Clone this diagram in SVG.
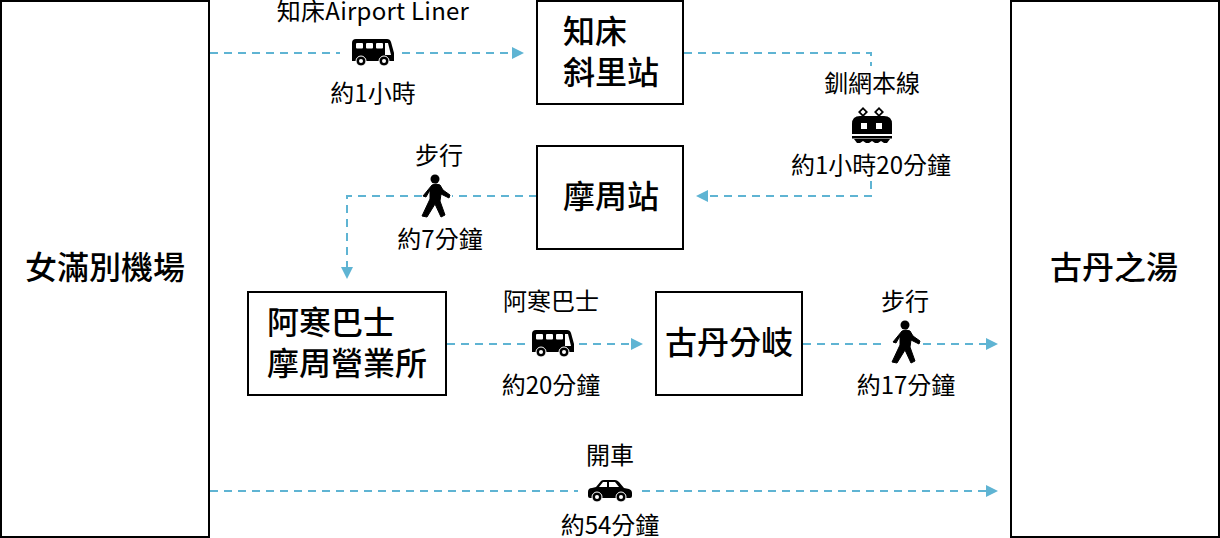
<svg xmlns="http://www.w3.org/2000/svg" xmlns:xlink="http://www.w3.org/1999/xlink" width="1220" height="538" viewBox="0 0 1220 538">
<style>
text{font-family:"Noto Sans CJK TC","Noto Sans",sans-serif;fill:#000;text-anchor:middle}
.n{font-size:32px;font-weight:500}
.l{font-size:24px}
.b{fill:#fff;stroke:#000;stroke-width:2}
.c{fill:none;stroke:#5fb4d3;stroke-width:2;stroke-dasharray:8 6}
.h{fill:#5fb4d3}
</style>
<defs>
<g id="bus">
<path d="M-17,-12 H14 Q17,-12 18,-9 L21,2 V10 H-21 V-8 Q-21,-12 -17,-12 Z" fill="#000"/>
<rect x="-17" y="-8" width="7" height="5.500" rx="1" fill="#fff"/>
<rect x="-7" y="-8" width="7" height="5.500" rx="1" fill="#fff"/>
<rect x="3" y="-8" width="7" height="5.500" rx="1" fill="#fff"/>
<path d="M12,-8 H15 L18,4 H12 Z" fill="#fff"/>
<circle cx="-12" cy="10" r="5" fill="#000" stroke="#fff" stroke-width="1"/><circle cx="-12" cy="10" r="2" fill="#fff"/>
<circle cx="11" cy="10" r="5" fill="#000" stroke="#fff" stroke-width="1"/><circle cx="11" cy="10" r="2" fill="#fff"/>
</g>
<g id="walk">
<circle cx="0" cy="0" r="4.500" fill="#000"/>
<path d="M-3,6 Q1,4 5,6 L8,11 L15,16 L14,19 L6,15 L5,22 L10,36 L6,38 L0,25 L-8,38 L-13,37 L-5,20 L-5,11 L-9,18 L-12,17 Z" fill="#000" stroke="#000" stroke-width="1" stroke-linejoin="round"/>
</g>
</defs>
<g id="connectors">
<path class="c" d="M210,53 H340"/>
<path class="c" d="M402,53 H514"/>
<path class="h" d="M524,53 L512,47 V59 Z"/>
<path class="c" d="M684,53 H871 V66"/>
<path class="c" d="M871,181 V196 H706"/>
<path class="h" d="M696,196 L708,190 V202 Z"/>
<path class="c" d="M537,196 H452"/>
<path class="c" d="M422,196 H347 V268"/>
<path class="h" d="M347,279 L341,267 H353 Z"/>
<path class="c" d="M447,344 H529"/>
<path class="c" d="M579,344 H632"/>
<path class="h" d="M643,344 L631,338 V350 Z"/>
<path class="c" d="M803,344 H884"/>
<path class="c" d="M923,344 H988"/>
<path class="h" d="M998,344 L986,338 V350 Z"/>
<path class="c" d="M210,491 H578"/>
<path class="c" d="M642,491 H988"/>
<path class="h" d="M998,491 L986,485 V497 Z"/>
</g>
<g id="node-airport"><rect class="b" x="1" y="1" width="208" height="536"/><text class="n" x="105" y="279">女滿別機場</text></g>
<g id="node-shari"><rect class="b" x="537" y="1" width="146" height="103"/><text class="n" x="595" y="43">知床</text><text class="n" x="611" y="84">斜里站</text></g>
<g id="node-mashu"><rect class="b" x="537" y="146" width="146" height="103"/><text class="n" x="611" y="208">摩周站</text></g>
<g id="node-akan"><rect class="b" x="248" y="292" width="198" height="103"/><text class="n" x="331" y="334">阿寒巴士</text><text class="n" x="347" y="375">摩周營業所</text></g>
<g id="node-junction"><rect class="b" x="656" y="292" width="146" height="103"/><text class="n" x="729" y="354">古丹分岐</text></g>
<g id="node-kotan"><rect class="b" x="1011" y="1" width="208" height="536"/><text class="n" x="1114" y="279">古丹之湯</text></g>
<g id="label-liner"><text class="l" x="373" y="20" letter-spacing="0.25">知床Airport Liner</text><use xlink:href="#bus" href="#bus" x="373" y="51"/><text class="l" x="373" y="102">約1小時</text></g>
<g id="label-senmo"><text class="l" x="872" y="92">釧網本線</text>
<g id="train" fill="#000">
<path d="M852,124 Q852,116 860,116 H884 Q892,116 892,124 V134 H852 Z"/>
<rect x="852" y="136" width="40" height="2.500"/>
<path d="M854,139 H890 L887,143 H884 L881,141 L878,143 H875 L872,141 L869,143 H866 L863,141 L860,143 H857 Z"/>
<rect x="861" y="123" width="6" height="6" fill="#fff"/><rect x="876" y="123" width="6" height="6" fill="#fff"/>
<path d="M863,107 L868,112 L863,117 L858,112 Z M863,109.500 L860.500,112 L863,114.500 L865.500,112 Z M879,107 L884,112 L879,117 L874,112 Z M879,109.500 L876.500,112 L879,114.500 L881.500,112 Z" fill-rule="evenodd"/>
</g>
<text class="l" x="871" y="174">約1小時20分鐘</text></g>
<g id="label-walk1"><text class="l" x="439" y="164">步行</text><use xlink:href="#walk" href="#walk" x="435" y="179"/><text class="l" x="440" y="248">約7分鐘</text></g>
<g id="label-akanbus"><text class="l" x="551" y="310">阿寒巴士</text><use xlink:href="#bus" href="#bus" x="553" y="342"/><text class="l" x="551" y="394">約20分鐘</text></g>
<g id="label-walk2"><text class="l" x="905" y="310">步行</text><use xlink:href="#walk" href="#walk" x="905" y="325"/><text class="l" x="906" y="394">約17分鐘</text></g>
<g id="label-car"><text class="l" x="610" y="464">開車</text>
<g transform="translate(610,490)">
<path d="M-22,2 Q-22,-2 -18,-2 L-14,-3 L-9,-9 Q-8,-10 -6,-10 H5 Q7,-10 9,-8 L14,-2 L19,-1 Q22,0 22,3 V6 Q22,8 20,8 H-20 Q-22,8 -22,6 Z" fill="#000"/>
<path d="M-11,-3 L-7,-8 H-3 V-3 Z M-1,-8 H5 L9,-3 H-1 Z" fill="#fff"/>
<circle cx="-13" cy="7" r="5" fill="#000" stroke="#fff"/><circle cx="-13" cy="7" r="2" fill="#fff"/>
<circle cx="11" cy="7" r="5" fill="#000" stroke="#fff"/><circle cx="11" cy="7" r="2" fill="#fff"/>
</g>
<text class="l" x="610" y="534">約54分鐘</text></g>
</svg>
